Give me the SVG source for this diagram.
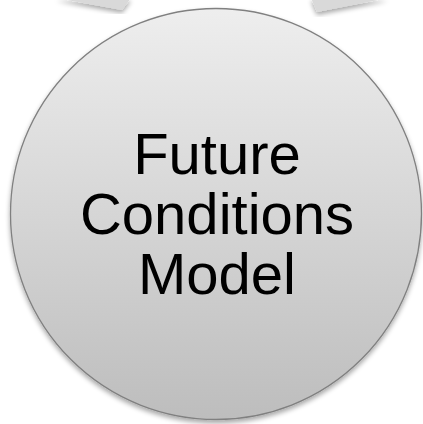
<svg xmlns="http://www.w3.org/2000/svg" width="423" height="424" viewBox="0 0 423 424">
<style>
.lbl{font-family:"Liberation Sans",Arial,sans-serif;font-size:58px;fill:#000;text-anchor:middle}
.arrow{fill:#d9d9d9}
</style>
<defs>
<linearGradient id="g" x1="0" y1="0" x2="0" y2="1">
<stop offset="0" stop-color="#eeeeee"/>
<stop offset="1" stop-color="#bdbdbd"/>
</linearGradient>
<filter id="sh" x="-20%" y="-20%" width="140%" height="150%">
<feGaussianBlur in="SourceAlpha" stdDeviation="2.5"/>
<feOffset dx="0" dy="3" result="b"/>
<feComponentTransfer><feFuncA type="linear" slope="0.35"/></feComponentTransfer>
<feMerge><feMergeNode/><feMergeNode in="SourceGraphic"/></feMerge>
</filter>
</defs>
<g id="connectors">
<polygon class="arrow" filter="url(#sh)" points="56,-2 122,10 131,-2"/>
<polygon class="arrow" filter="url(#sh)" points="311,-2 317,12 388,-2"/>
</g>
<g id="node-future">
<circle cx="216" cy="214" r="205.5" fill="url(#g)" stroke="#808080" stroke-width="1.3" filter="url(#sh)"/>
<text class="lbl" x="217" y="174">Future</text>
<text class="lbl" x="217" y="234">Conditions</text>
<text class="lbl" x="217" y="294">Model</text>
</g>
</svg>
